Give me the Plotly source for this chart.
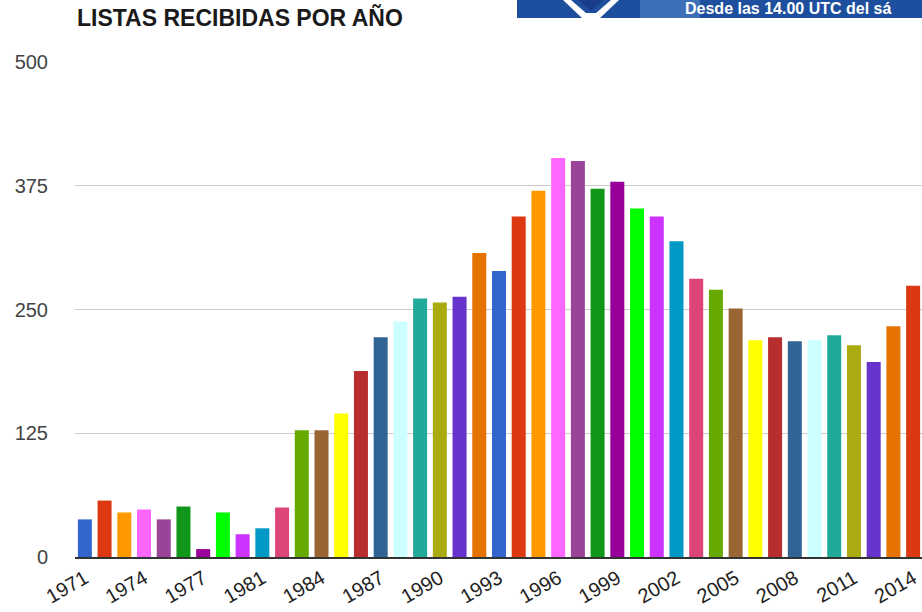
import plotly.graph_objects as go

# ---- data ----
years = ["1971", "1972", "1973", "1974", "1975", "1976", "1977", "1978", "1979",
         "1981", "1982", "1983", "1984", "1985", "1986", "1987", "1988", "1989",
         "1990", "1991", "1992", "1993", "1994", "1995", "1996", "1997", "1998",
         "1999", "2000", "2001", "2002", "2003", "2004", "2005", "2006", "2007",
         "2008", "2009", "2010", "2011", "2012", "2013", "2014"]
listas = [38, 57, 45, 48, 38, 51, 8, 45, 23,
          29, 50, 128, 128, 145, 188, 222, 238, 261,
          257, 263, 307, 289, 344, 370, 403, 400, 372,
          379, 352, 344, 319, 281, 270, 251, 219, 222,
          218, 219, 224, 214, 197, 233, 274]
shown_ticks = ["1971", "1974", "1977", "1981", "1984", "1987", "1990", "1993",
               "1996", "1999", "2002", "2005", "2008", "2011", "2014"]
y_ticks = [0, 125, 250, 375, 500]
title_text = "LISTAS RECIBIDAS POR AÑO"
banner_text = "Desde las 14.00 UTC del sá"

# ---- style ----
palette = ["#3366cc", "#dc3912", "#ff9900", "#ff66ff", "#994499", "#109618",
           "#990099", "#00ff00", "#cc33ff", "#0099c6", "#dd4477", "#66aa00",
           "#996633", "#ffff00", "#b82e2e", "#316395", "#ccffff", "#22aa99",
           "#aaaa11", "#6633cc", "#e67300",
           "#3366cc", "#dc3912", "#ff9900", "#ff66ff", "#994499", "#109618",
           "#990099", "#00ff00", "#cc33ff", "#0099c6", "#dd4477", "#66aa00",
           "#996633", "#ffff00", "#b82e2e", "#316395", "#ccffff", "#22aa99",
           "#aaaa11", "#6633cc", "#e67300", "#dc3912"]

W, H = 922, 612
L, R, T, B = 75, 0, 62, 55
pw, ph = W - L - R, H - T - B


def px(x):
    return (x - L) / pw


def py(y):
    return (H - B - y) / ph


fig = go.Figure(go.Bar(
    x=years, y=listas,
    marker=dict(color=palette, line=dict(width=0)),
    hoverinfo="x+y",
))

FONT = "Liberation Sans, Arial, sans-serif"

fig.update_layout(
    width=W, height=H,
    margin=dict(l=L, r=R, t=T, b=B, pad=0),
    paper_bgcolor="white", plot_bgcolor="white",
    showlegend=False,
    bargap=0.29,
    font=dict(family=FONT, color="#222"),
    title=dict(text=f"<b>{title_text}</b>", x=77 / W, xanchor="left",
               y=1 - 18 / H, yanchor="middle",
               font=dict(family=FONT, size=23, color="#1a1a1a")),
    xaxis=dict(
        type="category",
        categoryorder="array", categoryarray=years,
        range=[-0.5, 42.45],
        tickmode="array", tickvals=shown_ticks, ticktext=shown_ticks,
        tickangle=-30,
        tickfont=dict(family=FONT, size=20, color="#222"),
        showgrid=False, showline=True, linecolor="#333", linewidth=2,
        ticks="", zeroline=False,
    ),
    yaxis=dict(
        range=[0, 500],
        tickmode="array", tickvals=y_ticks,
        tickfont=dict(family=FONT, size=20, color="#444"),
        showgrid=True, gridcolor="#cccccc", gridwidth=1,
        zeroline=False, showline=False, ticks="outside",
        ticklen=22, tickcolor="rgba(0,0,0,0)",
    ),
)

# banner strip in the top right corner
shapes = [
    dict(type="rect", xref="paper", yref="paper",
         x0=px(517), x1=px(W), y0=py(18), y1=py(0),
         fillcolor="#1d4f9e", line=dict(width=0), layer="above"),
    dict(type="rect", xref="paper", yref="paper",
         x0=px(640), x1=px(700), y0=py(18), y1=py(0),
         fillcolor="#3d6fb8", line=dict(width=0), layer="above"),
    dict(type="path", xref="paper", yref="paper",
         path=(f"M {px(563)},{py(0)} L {px(582)},{py(18)} L {px(600)},{py(18)} "
               f"L {px(619)},{py(0)} L {px(611)},{py(0)} L {px(596)},{py(13)} "
               f"L {px(586)},{py(13)} L {px(571)},{py(0)} Z"),
         fillcolor="white", line=dict(width=0), layer="above"),
    dict(type="path", xref="paper", yref="paper",
         path=(f"M {px(578)},{py(0)} L {px(591)},{py(11)} L {px(604)},{py(0)} Z"),
         fillcolor="#1a3f8a", line=dict(width=0), layer="above"),
]
fig.update_layout(shapes=shapes)

fig.add_annotation(
    text=f"<b>{banner_text}</b>", xref="paper", yref="paper",
    x=px(683), y=py(9), xanchor="left", yanchor="middle",
    showarrow=False, font=dict(family=FONT, size=16, color="white"),
)

fig.write_html("out.html",
               config={"displayModeBar": False},
               post_script="document.body.style.margin='0';")
